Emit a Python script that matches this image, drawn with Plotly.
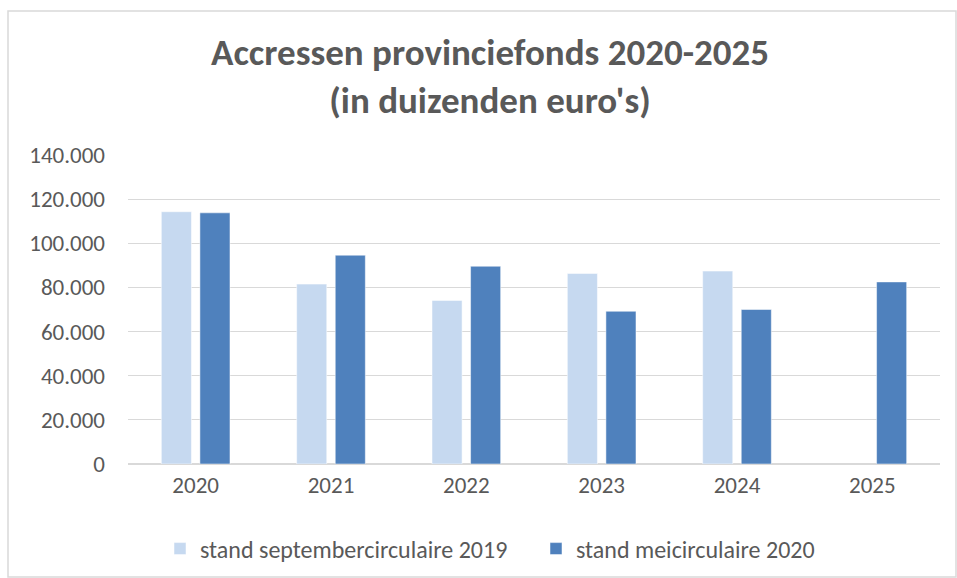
import plotly.graph_objects as go

years = ["2020", "2021", "2022", "2023", "2024", "2025"]
sept2019 = [114300, 81500, 74100, 86300, 87400, None]
mei2020 = [113800, 94600, 89600, 69200, 70000, 82500]
tick_vals = [0, 20000, 40000, 60000, 80000, 100000, 120000, 140000]

W, H = 957, 578
L, R, T, B = 128, 17, 155, 114
pw, ph = W - L - R, H - T - B

FONT = "Carlito, Lato, Open Sans, sans-serif"

fig = go.Figure()
fig.add_trace(go.Bar(x=years, y=sept2019, name="stand septembercirculaire 2019",
                     marker=dict(color="#C6D9F0", line=dict(color="white", width=0.5))))
fig.add_trace(go.Bar(x=years, y=mei2020, name="stand meicirculaire 2020",
                     marker=dict(color="#4F81BD", line=dict(color="white", width=0.5))))

grey = "#595959"
fig.update_layout(
    width=W, height=H,
    margin=dict(l=L, r=R, t=T, b=B, autoexpand=False),
    paper_bgcolor="white", plot_bgcolor="white",
    separators=",.",
    barmode="group", bargap=0.43, bargroupgap=0.22,
    font=dict(family=FONT, color=grey, size=23),
    title=dict(text="<b>Accressen provinciefonds 2020-2025<br>(in duizenden euro's)</b>",
               x=490 / W, xanchor="center", y=1 - 65 / H, yanchor="middle",
               font=dict(size=37, color=grey, family=FONT)),
    xaxis=dict(showgrid=False, ticks="", showline=True, linecolor="#D9D9D9", linewidth=1,
               tickfont=dict(size=23, color=grey)),
    yaxis=dict(range=[0, 140000], tickvals=tick_vals, tickformat=",d",
               showgrid=True, gridcolor="#D9D9D9", gridwidth=1, zeroline=True,
               zerolinecolor="#D9D9D9", ticks="", showline=False,
               tickfont=dict(size=23, color=grey), ticklabelstandoff=22),
    legend=dict(orientation="h", x=(160 - L) / pw, xanchor="left", y=(464 - 549) / ph,
                yanchor="middle", font=dict(size=24, color=grey), traceorder="normal",
                entrywidth=331, entrywidthmode="pixels"),
    shapes=[dict(type="rect", xref="paper", yref="paper",
                 x0=(8 - L) / pw, x1=(956 - L) / pw, y0=(464 - 577) / ph, y1=(464 - 11) / ph,
                 line=dict(color="#D9D9D9", width=1.5), layer="below")],
)
fig.write_html("out.html", config={"displayModeBar": False},
               post_script="document.body.style.margin='0';document.body.style.overflow='hidden';")
